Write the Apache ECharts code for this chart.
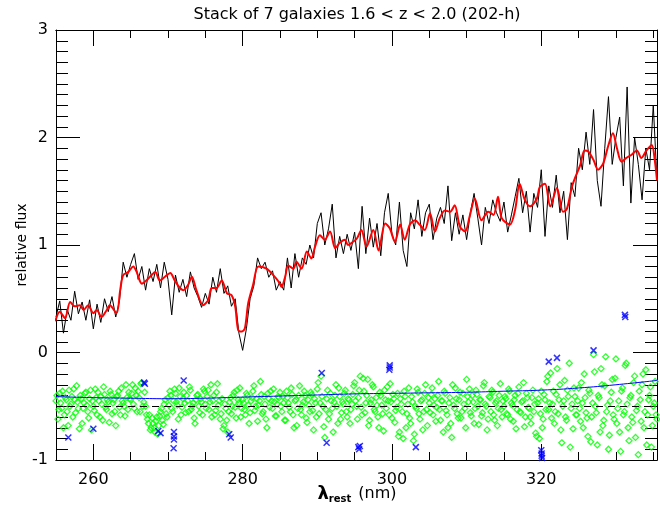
<!DOCTYPE html>
<html><head><meta charset="utf-8">
<script src="https://cdn.jsdelivr.net/npm/echarts@6/dist/echarts.min.js"></script>
<style>html,body{margin:0;padding:0;background:#fff}#c{width:660px;height:508px}</style>
</head><body><div id="c"></div>
<script>
// ---- data ----
const titleText = 'Stack of 7 galaxies 1.6 < z < 2.0 (202-h)';
const xMajorTicks = [260, 280, 300, 320];

// black spectrum, wavelength grid 255 nm + 0.5 nm steps
const blackStart = 255, blackStep = 0.5;
const blackFlux = [
 0.33,0.48,0.18,0.40,0.30,0.57,0.36,0.47,0.30,0.49,
 0.22,0.45,0.28,0.50,0.38,0.52,0.33,0.48,0.84,0.70,
 0.82,0.92,0.68,0.80,0.58,0.78,0.66,0.82,0.60,0.84,
 0.68,0.35,0.72,0.56,0.68,0.52,0.75,0.60,0.52,0.42,
 0.55,0.45,0.70,0.56,0.78,0.55,0.62,0.43,0.50,0.18,
 0.02,0.22,0.50,0.62,0.88,0.78,0.84,0.70,0.76,0.58,
 0.66,0.58,0.88,0.60,0.92,0.70,0.88,0.82,1.00,0.88,
 1.20,1.30,1.00,1.15,1.38,0.88,1.08,0.92,1.10,0.95,
 1.12,0.78,1.36,0.92,1.25,0.98,1.20,0.90,1.30,1.48,
 1.10,1.00,1.40,0.95,0.80,1.30,1.15,1.42,1.08,1.30,
 1.38,1.05,1.25,1.35,1.20,1.55,1.04,1.30,1.10,1.28,
 1.05,1.30,1.48,1.25,1.00,1.35,1.20,1.42,1.30,1.22,
 1.40,1.12,1.28,1.45,1.62,1.30,1.50,1.12,1.48,1.35,
 1.70,1.08,1.55,1.35,1.65,1.30,1.50,1.05,1.58,1.45,
 1.90,1.70,2.05,1.75,2.26,1.60,1.36,1.90,2.38,1.75,
 2.00,2.19,1.55,2.47,1.39,2.00,1.75,1.42,1.90,1.70,
 2.30,1.60
];

// red smoothed spectrum
const redWave = [254.9,255.5,256.2,256.9,257.5,258.2,258.7,259.3,260.0,260.45,261.1,261.8,262.2,263.1,263.6,264.0,264.7,265.35,265.8,266.5,
 267.1,267.6,268.3,268.9,269.6,270.3,270.9,271.6,272.05,272.7,273.2,273.8,274.7,275.4,275.85,276.5,277.2,277.9,278.5,279.0,
 279.4,279.9,280.3,280.75,281.4,282.1,283.2,284.1,284.8,285.2,285.7,286.1,286.8,287.2,287.9,288.6,289.2,289.7,290.35,291.0,
 291.7,292.4,293.0,293.7,294.1,294.8,295.3,295.9,296.6,297.5,298.2,299.1,299.7,300.4,301.1,301.7,302.4,303.1,303.7,304.4,
 305.1,305.75,306.4,307.1,307.8,308.4,309.1,309.8,310.4,311.1,312.0,312.9,313.6,314.2,314.7,315.8,316.5,317.1,317.8,318.5,
 319.4,319.8,320.5,321.2,322.1,322.9,323.4,324.1,324.5,325.2,325.8,326.3,327.0,327.6,328.3,329.0,329.6,330.1,330.75,331.4,
 332.1,332.8,333.4,334.1,334.8,335.2,335.5];
const redFlux = [0.29,0.38,0.32,0.47,0.43,0.44,0.395,0.44,0.365,0.395,0.33,0.395,0.44,0.365,0.58,0.72,0.75,0.80,0.75,0.64,
 0.67,0.705,0.75,0.67,0.705,0.74,0.67,0.60,0.58,0.63,0.705,0.58,0.44,0.49,0.60,0.60,0.67,0.55,0.535,0.43,
 0.21,0.195,0.225,0.46,0.63,0.80,0.78,0.72,0.66,0.61,0.705,0.81,0.78,0.845,0.78,0.94,0.875,0.985,1.09,1.05,
 1.125,0.97,1.02,1.05,1.0,1.03,1.06,1.14,0.985,1.14,0.95,1.20,1.155,1.03,1.19,1.05,1.19,1.23,1.19,1.14,
 1.295,1.125,1.25,1.32,1.31,1.37,1.17,1.125,1.265,1.43,1.23,1.31,1.28,1.45,1.25,1.19,1.33,1.57,1.42,1.36,
 1.43,1.54,1.57,1.36,1.53,1.31,1.33,1.54,1.62,1.74,1.88,1.87,1.79,1.70,1.76,1.93,2.04,1.91,1.775,1.81,
 1.84,1.88,1.81,1.88,1.93,1.79,1.60];

// green residual diamonds, two interleaved grids (255 nm + 0.25 nm steps, and 255.125 nm + 0.25 nm steps)
const greenStep = 0.25;
const greenStartA = 255;
const greenResidA = [
 -0.45,-0.62,-0.38,-0.52,-0.70,-0.42,-0.55,-0.35,-0.48,-0.60,-0.44,-0.31,-0.52,-0.40,-0.66,-0.47,-0.37,-0.55,-0.43,-0.72,
 -0.50,-0.34,-0.58,-0.45,-0.41,-0.63,-0.39,-0.53,-0.46,-0.36,-0.57,-0.44,-0.68,-0.40,-0.51,-0.33,-0.47,-0.59,-0.42,-0.37,
 -0.44,-0.30,-0.52,-0.40,-0.36,-0.55,-0.28,-0.46,-0.50,-0.62,-0.58,-0.70,-0.66,-0.74,-0.60,-0.68,-0.55,-0.63,-0.48,-0.57,
 -0.42,-0.36,-0.52,-0.45,-0.38,-0.49,-0.33,-0.58,-0.43,-0.47,-0.40,-0.55,-0.35,-0.50,-0.61,-0.44,-0.39,-0.56,-0.46,-0.34,
 -0.48,-0.41,-0.53,-0.30,-0.45,-0.58,-0.37,-0.49,-0.62,-0.43,-0.68,-0.52,-0.74,-0.46,-0.57,-0.40,-0.51,-0.35,-0.47,-0.60,
 -0.44,-0.53,-0.38,-0.49,-0.56,-0.42,-0.31,-0.50,-0.64,-0.45,-0.39,-0.55,-0.48,-0.70,-0.43,-0.36,-0.52,-0.46,-0.59,-0.41,
 -0.37,-0.55,-0.47,-0.63,-0.42,-0.51,-0.33,-0.58,-0.45,-0.68,-0.40,-0.53,-0.49,-0.36,-0.61,-0.44,-0.55,-0.39,-0.72,-0.47,
 -0.34,-0.57,-0.22,-0.50,-0.79,-0.43,-0.62,-0.38,-0.52,-0.46,-0.30,-0.66,-0.41,-0.56,-0.48,-0.35,-0.60,-0.44,-0.53,-0.39,
 -0.28,-0.50,-0.42,-0.22,-0.58,-0.36,-0.47,-0.25,-0.63,-0.44,-0.32,-0.55,-0.49,-0.70,-0.40,-0.57,-0.35,-0.52,-0.45,-0.29,
 -0.61,-0.43,-0.54,-0.38,-0.74,-0.48,-0.80,-0.41,-0.57,-0.33,-0.66,-0.46,-0.76,-0.52,-0.37,-0.62,-0.44,-0.55,-0.30,-0.68,
 -0.47,-0.39,-0.58,-0.43,-0.51,-0.27,-0.63,-0.45,-0.36,-0.54,-0.70,-0.42,-0.79,-0.49,-0.33,-0.57,-0.44,-0.61,-0.38,-0.52,
 -0.25,-0.46,-0.56,-0.40,-0.66,-0.35,-0.50,-0.44,-0.59,-0.31,-0.48,-0.72,-0.41,-0.55,-0.37,-0.63,-0.45,-0.52,-0.29,-0.60,
 -0.50,-0.43,-0.58,-0.36,-0.47,-0.64,-0.40,-0.53,-0.32,-0.56,-0.45,-0.69,-0.38,-0.51,-0.60,-0.42,-0.55,-0.75,-0.47,-0.80,
 -0.36,-0.62,-0.44,-0.27,-0.53,-0.19,-0.48,-0.66,-0.39,-0.57,-0.30,-0.84,-0.45,-0.60,-0.35,-0.10,-0.52,-0.71,-0.41,-0.58,
 -0.33,-0.64,-0.47,-0.20,-0.56,-0.78,-0.38,-0.60,-0.02,-0.50,-0.86,-0.42,-0.15,-0.68,-0.31,-0.55,-0.90,-0.45,-0.25,-0.62,
 -0.06,-0.52,-0.74,-0.36,-0.58,-0.12,-0.48,-0.82,-0.40,-0.65,-0.22,-0.54,-0.95,-0.44,-0.30,-0.70,-0.16,-0.58,-0.40,-0.88,
 -0.50,-0.27,-0.62
];
const greenStartB = 255.125;
const greenResidB = [
 -0.40,-0.53,-0.47,-0.36,-0.58,-0.44,-0.68,-0.50,-0.41,-0.34,-0.56,-0.46,-0.71,-0.43,-0.52,-0.38,-0.49,-0.61,-0.35,-0.45,
 -0.54,-0.42,-0.37,-0.60,-0.48,-0.32,-0.51,-0.44,-0.65,-0.39,-0.47,-0.55,-0.41,-0.36,-0.58,-0.45,-0.50,-0.30,-0.53,-0.43,
 -0.38,-0.48,-0.33,-0.55,-0.42,-0.29,-0.50,-0.37,-0.58,-0.66,-0.72,-0.61,-0.70,-0.64,-0.76,-0.59,-0.52,-0.67,-0.44,-0.60,
 -0.49,-0.40,-0.55,-0.34,-0.46,-0.62,-0.41,-0.51,-0.37,-0.56,-0.45,-0.32,-0.53,-0.47,-0.66,-0.40,-0.50,-0.43,-0.58,-0.36,
 -0.52,-0.35,-0.46,-0.60,-0.40,-0.54,-0.29,-0.45,-0.57,-0.71,-0.48,-0.63,-0.55,-0.42,-0.50,-0.37,-0.61,-0.44,-0.33,-0.52,
 -0.47,-0.58,-0.40,-0.66,-0.45,-0.36,-0.54,-0.43,-0.49,-0.27,-0.57,-0.41,-0.62,-0.38,-0.51,-0.45,-0.34,-0.59,-0.48,-0.42,
 -0.50,-0.41,-0.63,-0.36,-0.47,-0.55,-0.39,-0.70,-0.44,-0.52,-0.31,-0.58,-0.46,-0.40,-0.65,-0.49,-0.37,-0.54,-0.43,-0.60,
 -0.28,-0.47,-0.41,-0.69,-0.53,-0.35,-0.57,-0.45,-0.74,-0.40,-0.50,-0.33,-0.62,-0.46,-0.38,-0.55,-0.43,-0.66,-0.48,-0.31,
 -0.45,-0.62,-0.35,-0.51,-0.24,-0.56,-0.40,-0.68,-0.47,-0.30,-0.53,-0.42,-0.60,-0.37,-0.49,-0.73,-0.44,-0.32,-0.58,-0.46,
 -0.39,-0.65,-0.51,-0.78,-0.43,-0.55,-0.36,-0.70,-0.48,-0.61,-0.41,-0.82,-0.50,-0.34,-0.57,-0.45,-0.72,-0.38,-0.53,-0.42,
 -0.56,-0.33,-0.49,-0.64,-0.40,-0.53,-0.45,-0.74,-0.38,-0.58,-0.47,-0.66,-0.30,-0.52,-0.43,-0.61,-0.37,-0.55,-0.48,-0.70,
 -0.41,-0.34,-0.59,-0.46,-0.52,-0.39,-0.67,-0.44,-0.56,-0.28,-0.50,-0.62,-0.42,-0.35,-0.58,-0.47,-0.68,-0.40,-0.53,-0.45,
 -0.41,-0.57,-0.34,-0.62,-0.49,-0.44,-0.71,-0.38,-0.55,-0.46,-0.28,-0.60,-0.42,-0.52,-0.66,-0.35,-0.48,-0.78,-0.43,-0.57,
 -0.70,-0.39,-0.53,-0.22,-0.47,-0.61,-0.36,-0.55,-0.15,-0.44,-0.72,-0.50,-0.26,-0.63,-0.41,-0.88,-0.48,-0.33,-0.58,-0.45,
 -0.52,-0.28,-0.70,-0.42,-0.61,-0.35,-0.83,-0.47,-0.18,-0.56,-0.40,-0.74,-0.30,-0.63,-0.04,-0.49,-0.77,-0.37,-0.58,-0.24,
 -0.66,-0.45,-0.92,-0.33,-0.55,-0.10,-0.70,-0.42,-0.60,-0.28,-0.79,-0.50,-0.36,-0.64,-0.20,-0.55,-0.86,-0.44,-0.32,-0.68,
 -0.47,-0.58
];

// blue crosses
const crossWave = [256.65,260.0,266.8,266.9,268.7,269.0,270.8,270.8,270.8,270.75,272.1,278.2,278.4,290.6,291.25,295.5,295.6,295.7,299.7,299.7,299.65,303.2,320.0,320.05,320.05,320.1,321.0,322.1,327.0,331.2,331.25];
const crossVal  = [-0.79,-0.71,-0.28,-0.29,-0.73,-0.75,-0.74,-0.78,-0.81,-0.89,-0.26,-0.76,-0.79,-0.19,-0.84,-0.88,-0.90,-0.87,-0.12,-0.14,-0.16,-0.88,-0.91,-0.94,-0.96,-0.98,-0.085,-0.05,0.02,0.35,0.33];

// blue continuum curve
const contWave = [255,260,265,270,275,280,285,290,295,300,305,310,315,320,325,330,335.5];
const contVal  = [-0.41,-0.42,-0.425,-0.43,-0.425,-0.415,-0.405,-0.395,-0.385,-0.38,-0.375,-0.37,-0.36,-0.35,-0.33,-0.30,-0.26];

const dashLevel = -0.5;
const xMin = 255, xMax = 335.5, yMin = -1, yMax = 3;

// ---- build ----
const blackData = blackFlux.map((v, i) => [blackStart + i * blackStep, v]);
const greenData = greenResidA.map((v, i) => [greenStartA + i * greenStep, v])
  .concat(greenResidB.map((v, i) => [greenStartB + i * greenStep, v]));
const redData = redWave.map((w, i) => [w, redFlux[i]]);
const crossData = crossWave.map((w, i) => [w, crossVal[i]]);
const contData = contWave.map((w, i) => [w, contVal[i]]);

const AX = '#000';
const font = 'DejaVu Sans';
function xAx(pos, major, showLabel) {
  const a = {
    type: 'value', position: pos, min: xMin, max: xMax,
    axisLine: { show: true, onZero: false, lineStyle: { color: AX, width: 1 } },
    splitLine: { show: false },
    axisTick: { inside: true, length: major ? 16 : 8, lineStyle: { color: AX, width: 1 } },
    axisLabel: { show: false }
  };
  if (major) {
    a.axisTick.customValues = xMajorTicks;
    a.axisLabel = showLabel ? { show: true, customValues: xMajorTicks, color: '#000', fontSize: 16, fontFamily: font, margin: 12 } : { show: false };
  } else {
    a.interval = 5;
  }
  return a;
}
function yAx(pos, showLabel) {
  return {
    type: 'value', position: pos, min: yMin, max: yMax, interval: 1,
    axisLine: { show: true, onZero: false, lineStyle: { color: AX, width: 1 } },
    splitLine: { show: false },
    axisTick: { inside: true, length: 24, lineStyle: { color: AX, width: 1 } },
    minorTick: { show: true, splitNumber: 10, length: 12, lineStyle: { color: AX, width: 1 } },
    axisLabel: { show: showLabel, color: '#000', fontSize: 16, fontFamily: font, margin: 8 }
  };
}

const chart = echarts.init(document.getElementById('c'), null, { renderer: 'canvas' });
chart.setOption({
  animation: false,
  backgroundColor: '#fff',
  grid: { left: 56, right: 3, top: 30, bottom: 48, containLabel: false },
  xAxis: [xAx('bottom', false, false), xAx('bottom', true, true), xAx('top', false, false), xAx('top', true, false)],
  yAxis: [yAx('left', true), yAx('right', false)],
  graphic: [
    { type: 'text', x: 357, y: 15, style: { text: titleText, fill: '#000', font: '16px "DejaVu Sans"', textAlign: 'center', textVerticalAlign: 'middle' } },
    { type: 'text', x: 22, y: 245, rotation: Math.PI / 2, style: { text: 'relative flux', fill: '#000', font: '14px "DejaVu Sans"', textAlign: 'center', textVerticalAlign: 'middle' } },
    { type: 'text', x: 357, y: 494, style: { text: '{a|λ}{b|rest} (nm)', fill: '#000', textAlign: 'center', textVerticalAlign: 'middle',
        rich: { a: { fontSize: 18, fontWeight: 'bold', fontFamily: font, fill: '#000', verticalAlign: 'middle' },
                b: { fontSize: 10, fontWeight: 'bold', fontFamily: font, fill: '#000', padding: [10, 2, 0, 0] } },
        font: '16px "DejaVu Sans"' } }
  ],
  series: [
    { type: 'scatter', xAxisIndex: 0, yAxisIndex: 0, data: greenData, symbol: 'diamond', symbolSize: 6,
      itemStyle: { color: 'rgba(0,0,0,0)', borderColor: '#00ff00', borderWidth: 1.3 }, z: 2,
      markLine: { silent: true, symbol: 'none', label: { show: false }, lineStyle: { color: '#000', type: [7, 5], width: 1 }, data: [{ yAxis: dashLevel }] } },
    { type: 'line', xAxisIndex: 0, yAxisIndex: 0, data: contData, smooth: true, showSymbol: false, lineStyle: { color: '#0000ff', width: 1 }, z: 3 },
    { type: 'scatter', xAxisIndex: 0, yAxisIndex: 0, data: crossData, symbol: 'path://M0,0L10,10M10,0L0,10', symbolSize: 6,
      itemStyle: { color: 'rgba(0,0,0,0)', borderColor: '#0000ff', borderWidth: 1.5 }, z: 4 },
    { type: 'line', xAxisIndex: 0, yAxisIndex: 0, data: blackData, showSymbol: false, lineStyle: { color: '#000', width: 1 }, z: 5 },
    { type: 'line', xAxisIndex: 0, yAxisIndex: 0, data: redData, smooth: 0.3, showSymbol: false, lineStyle: { color: '#ff0000', width: 2 }, z: 6 }
  ]
});
</script></body></html>
